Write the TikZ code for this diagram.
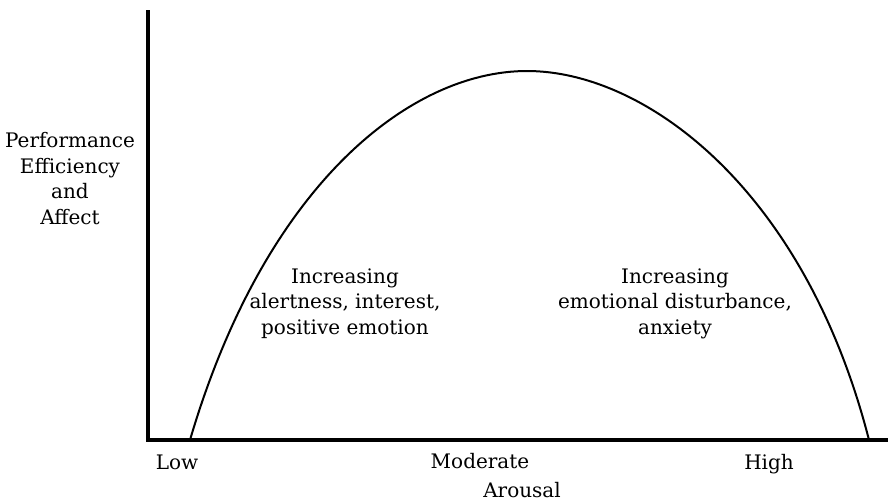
\documentclass[tikz,border=0pt]{standalone}
\usepackage{fontspec}
\setmainfont{DejaVu Serif}
\usetikzlibrary{positioning}

\begin{document}
\begin{tikzpicture}[
      x=0.5pt, y=-0.5pt,
      font=\fontsize{10}{12.8}\selectfont,
      eje/.style={line width=2pt},
      curva/.style={line width=1pt},
      et/.style={align=center, inner sep=0pt},
    ]
    \useasboundingbox (0,0) rectangle (888,499);

    % =============== PUNTOS ==============================================
    \coordinate (o)    at (148,440);
    \coordinate (ytop) at (148,10);
    \coordinate (xend) at (888,440);
    \coordinate (ini)  at (190,440);
    \coordinate (cima) at (527,71);
    \coordinate (fin)  at (869,440);

    % =============== EJES Y CURVA ========================================
    \draw[eje] (ytop) -- (o) -- (xend);
    \draw[curva] (ini) .. controls (265,185) and (410,71) .. (cima)
                       .. controls (646,71) and (805,190) .. (fin);

    % =============== ROTULOS =============================================
    \node[et, anchor=north] (ylab) at (70,132) {Performance\\Efficiency\\and\\Affect};
    \node[et, anchor=north] (alerta) at (345,268) {Increasing\\alertness, interest,\\positive emotion};
    \node[et, anchor=north] (ansia)  at (675,268) {Increasing\\emotional disturbance,\\anxiety};

    \node[anchor=base, inner sep=0pt] (low)  at (177,469) {Low};
    \node[anchor=base, inner sep=0pt] (mod)  at (480,468) {Moderate};
    \node[anchor=base, inner sep=0pt] (high) at (769,469) {High};
    \node[anchor=base, inner sep=0pt] (arousal) at (522,497) {Arousal};
  \end{tikzpicture}
\end{document}
